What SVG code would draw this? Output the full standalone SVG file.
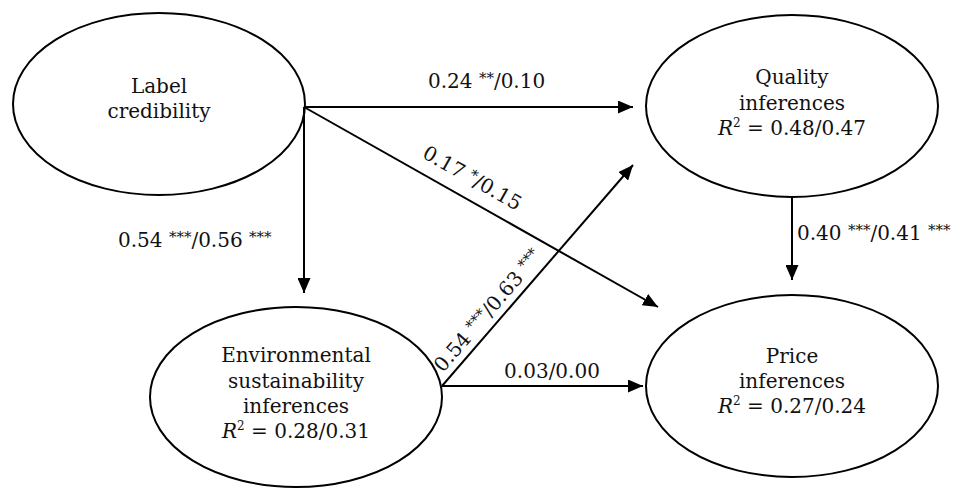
<svg xmlns="http://www.w3.org/2000/svg" width="968" height="489" viewBox="0 0 968 489">
<style>
  .node ellipse { fill: #fff; stroke: #000; stroke-width: 2; }
  .node text, .lbl { font-family: "DejaVu Serif", "Liberation Serif", serif; font-size: 20px; fill: #111; }
  .node text { text-anchor: middle; }
  .conn line { stroke: #000; stroke-width: 2; marker-end: url(#arr); }
  .st { font-size: 15px; }
  .it { font-style: italic; }
  .sup { font-size: 12px; }
</style>
<defs>
  <marker id="arr" viewBox="0 0 15 13" refX="15" refY="6.5" markerWidth="15" markerHeight="13" markerUnits="userSpaceOnUse" orient="auto">
    <path d="M0,0 L15,6.5 L0,13 z" fill="#000"/>
  </marker>
</defs>
<rect width="968" height="489" fill="#fff"/>

<g id="label-credibility" class="node">
  <ellipse cx="159" cy="104" rx="146" ry="91"/>
  <text x="159" y="93">Label</text>
  <text x="159" y="118">credibility</text>
</g>
<g id="quality-inferences" class="node">
  <ellipse cx="792" cy="106" rx="146" ry="91"/>
  <text x="792" y="84">Quality</text>
  <text x="792" y="110">inferences</text>
  <text x="792" y="135"><tspan class="it">R</tspan><tspan class="sup" dy="-8">2</tspan><tspan dy="8"> = 0.48/0.47</tspan></text>
</g>
<g id="env-inferences" class="node">
  <ellipse cx="296" cy="397" rx="146" ry="90"/>
  <text x="296" y="362">Environmental</text>
  <text x="296" y="388">sustainability</text>
  <text x="296" y="413">inferences</text>
  <text x="296" y="438"><tspan class="it">R</tspan><tspan class="sup" dy="-8">2</tspan><tspan dy="8"> = 0.28/0.31</tspan></text>
</g>
<g id="price-inferences" class="node">
  <ellipse cx="792" cy="386" rx="146" ry="91"/>
  <text x="792" y="363">Price</text>
  <text x="792" y="388">inferences</text>
  <text x="792" y="413"><tspan class="it">R</tspan><tspan class="sup" dy="-8">2</tspan><tspan dy="8"> = 0.27/0.24</tspan></text>
</g>

<g id="connectors" class="conn">
  <line x1="304" y1="107" x2="633" y2="107"/>
  <line x1="304" y1="107" x2="304" y2="293"/>
  <line x1="304" y1="107" x2="658" y2="307"/>
  <line x1="442" y1="386" x2="633" y2="165"/>
  <line x1="442" y1="386" x2="643" y2="386"/>
  <line x1="792" y1="197" x2="792" y2="280"/>
</g>

<g id="labels">
  <text class="lbl" x="428" y="88">0.24 <tspan class="st" dy="-5">**</tspan><tspan dy="5">/0.10</tspan></text>
  <text class="lbl" x="118" y="247">0.54 <tspan class="st" dy="-5">***</tspan><tspan dy="5">/0.56 </tspan><tspan class="st" dy="-5">***</tspan></text>
  <text class="lbl" text-anchor="middle" transform="translate(469,184) rotate(29.4)">0.17 <tspan class="st" dy="-5">*</tspan><tspan dy="5">/0.15</tspan></text>
  <text class="lbl" text-anchor="middle" transform="translate(493,315) rotate(-49.4)">0.54 <tspan class="st" dy="-5">***</tspan><tspan dy="5">/0.63 </tspan><tspan class="st" dy="-5">***</tspan></text>
  <text class="lbl" text-anchor="middle" x="552" y="378">0.03/0.00</text>
  <text class="lbl" x="797" y="240">0.40 <tspan class="st" dy="-5">***</tspan><tspan dy="5">/0.41 </tspan><tspan class="st" dy="-5">***</tspan></text>
</g>
</svg>
